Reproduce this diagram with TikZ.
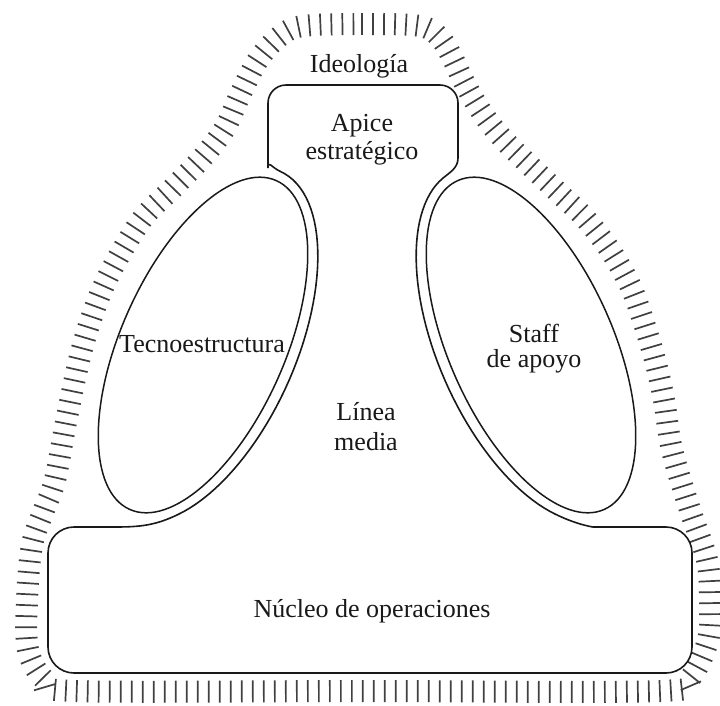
\documentclass[tikz,border=0pt]{standalone}
\usepackage{fontspec}
\setmainfont{Liberation Serif}
\usetikzlibrary{shapes.geometric,decorations.markings}
\begin{document}
\begin{tikzpicture}[x=1pt,y=1pt,
  outline/.style={line width=1.6pt, black!90},
  oval/.style={draw, ellipse, line width=1.5pt, black!90, inner sep=0pt,
    minimum width=360pt, minimum height=164pt},
  lbl/.style={font=\fontsize{26}{28}\selectfont, inner sep=0pt, align=center, text=black!90},
  hatch/.style={decorate, decoration={markings,
    mark=between positions 0 and 1 step 11pt with {\draw[line width=1.7pt, black!75] (0pt,-11pt) -- (0pt,11pt);}}}
]
\fill[white] (0,0) rectangle (720,-705);
\useasboundingbox (0,0) rectangle (720,-705);

% ideology band
\path[hatch] plot[smooth cycle, tension=0.55] coordinates {
  (303,-26) (362,-24) (420,-26) (440,-38) (452,-57) (462,-78) (474,-100)
  (488,-121) (504,-140) (522,-158) (542,-177) (562,-196) (585,-218)
  (610,-250) (630,-285) (642,-317) (655,-360) (664,-400) (672,-450)
  (690,-510) (707,-560) (710,-600) (708,-640) (690,-678) (660,-691)
  (362,-691) (75,-691) (45,-680) (28,-650) (27,-600) (32,-545) (44,-510)
  (55,-480) (67,-417) (83,-345) (105,-283) (140,-222) (173,-188)
  (203,-157) (225,-128) (240,-95) (258,-60) (280,-36)};

% ellipses
\node[oval, rotate=66] (tecno) at (203,-345) {};
\node[oval, rotate=-66] (staff) at (531,-345) {};

% main outline: apex, middle line, operating core
\draw[outline, rounded corners=18pt] (363,-85) -- (268,-85) -- (268,-150)
  {[sharp corners] to[out=-90,in=156] (280.3,-171.4)
   -- plot[domain=0:150, samples=50] ({203+77.27*cos(\x)+84.96*sin(\x)},{-345+173.57*cos(\x)-37.82*sin(\x)})
   to[out=206,in=0] (115,-527)}
  {[rounded corners=26pt] -- (48,-527) -- (48,-673) -- (692,-673) -- (692,-527) -- (619,-527)}
  {[sharp corners] to[out=180,in=-26] (555.4,-514.2)
   -- plot[domain=8:150, samples=50] ({531-77.27*cos(158-\x)-84.96*sin(158-\x)},{-345+173.57*cos(158-\x)-37.82*sin(158-\x)})
   to[out=40,in=-90] (458,-158)}
  -- (458,-85) -- cycle;

% labels
\node[lbl, anchor=base] (ideo) at (359,-72) {Ideología};
\node[lbl] (apice) at (362,-140) {Apice\\estratégico};
\node[lbl, anchor=base] (tecnot) at (202,-352) {Tecnoestructura};
\node[lbl, font=\fontsize{26}{25}\selectfont] (stafft) at (534,-349) {Staff\\de apoyo};
\node[lbl, font=\fontsize{26}{30}\selectfont] (linea) at (366,-427) {Línea\\media};
\node[lbl, anchor=base] (nucleo) at (372,-617) {Núcleo de operaciones};
\end{tikzpicture}
\end{document}
